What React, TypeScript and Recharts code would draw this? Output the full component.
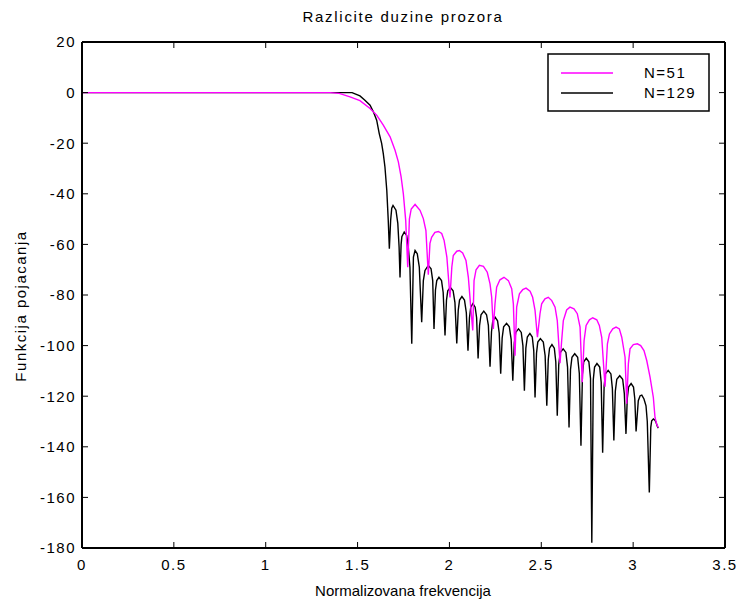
import React from 'react';
import { LineChart, Line, XAxis, YAxis } from 'recharts';

const TITLE = 'Razlicite duzine prozora';
const X_LABEL = 'Normalizovana frekvencija';
const Y_LABEL = 'Funkcija pojacanja';
const X_TICKS = [0, 0.5, 1, 1.5, 2, 2.5, 3, 3.5];
const Y_TICKS = [-180, -160, -140, -120, -100, -80, -60, -40, -20, 0, 20];
const SERIES_NAMES = ['N=51', 'N=129'];
const SERIES_COLORS = ['#ff00ff', '#000000'];

// N=51 response (x: rad, y: dB)
const N51: [number, number][] = [
  [0, 0], [1.35, 0], [1.40, -0.3], [1.459, -1.7], [1.513, -3.2], [1.568, -6.3], [1.604, -8.9], [1.640, -12.9],
  [1.677, -17.5], [1.704, -22.8], [1.722, -27.4], [1.737, -33.3], [1.749, -39.9], [1.762, -50.5], [1.773, -69],
  [1.782, -50], [1.792, -46], [1.813, -44.2], [1.840, -46.5], [1.858, -49.8], [1.872, -54.5], [1.885, -72],
  [1.894, -59.6], [1.903, -57.2], [1.921, -55.2], [1.940, -54.9], [1.958, -55.7], [1.971, -58.4], [1.986, -65], [2.003, -81],
  [2.013, -69], [2.021, -64.4], [2.040, -62.7], [2.054, -62.4], [2.072, -63.4], [2.090, -66.3], [2.103, -73], [2.116, -84.8], [2.127, -94],
  [2.134, -74.3], [2.145, -70], [2.163, -68.3], [2.185, -68.7], [2.206, -71], [2.221, -75.6], [2.230, -80.9], [2.239, -93.4],
  [2.248, -83.5], [2.257, -76.9], [2.275, -74], [2.297, -73], [2.321, -74.3], [2.339, -77.5], [2.348, -83.5], [2.357, -104],
  [2.366, -84.8], [2.381, -79.5], [2.399, -77.9], [2.417, -77.3], [2.439, -78.5], [2.453, -80.9], [2.466, -86.1], [2.479, -96.7],
  [2.493, -87.4], [2.502, -83.5], [2.520, -81.5], [2.538, -80.9], [2.557, -82.2], [2.575, -84.8], [2.587, -90.1], [2.602, -107],
  [2.611, -98], [2.620, -90.1], [2.638, -85.9], [2.656, -84.8], [2.678, -85.5], [2.696, -87.4], [2.711, -92.7], [2.723, -114.5],
  [2.733, -98], [2.744, -92], [2.762, -89.8], [2.780, -89], [2.802, -89.8], [2.816, -92], [2.829, -96.7], [2.847, -116.2],
  [2.860, -99.3], [2.871, -95.4], [2.889, -93.4], [2.907, -92.7], [2.925, -93.4], [2.938, -96.7], [2.956, -104.6], [2.965, -123],
  [2.974, -107.2], [2.983, -101.3], [3.001, -99.6], [3.023, -99.3], [3.041, -100], [3.059, -102], [3.074, -105.9], [3.092, -112.5],
  [3.110, -120.5], [3.119, -128.4], [3.128, -131], [3.137, -132.4],
];

// N=129 response (x: rad, y: dB)
const N129: [number, number][] = [
  [0, 0], [1.470, 0], [1.513, -1.3], [1.540, -3], [1.568, -5], [1.586, -7.6], [1.604, -10.9], [1.618, -16.2], [1.631, -20.1],
  [1.640, -24.1], [1.649, -29.4], [1.659, -38.6], [1.667, -50.5], [1.673, -61.7],
  [1.680, -50.5], [1.686, -45.7], [1.693, -44.6], [1.709, -46.5], [1.719, -51.7], [1.726, -61], [1.731, -73.1],
  [1.737, -60], [1.741, -57], [1.754, -55.1], [1.767, -56.4], [1.776, -61], [1.785, -69], [1.795, -99.3],
  [1.804, -65], [1.813, -62.4], [1.825, -63.7], [1.836, -69], [1.849, -90.8],
  [1.858, -74.3], [1.867, -70.3], [1.885, -68.3], [1.900, -69.6], [1.909, -74.3], [1.916, -93.4],
  [1.924, -78], [1.931, -74.3], [1.943, -73], [1.957, -74.3], [1.966, -79], [1.976, -96],
  [1.984, -82], [1.991, -78.3], [2.005, -77], [2.020, -78.3], [2.030, -83], [2.040, -99.2],
  [2.048, -86], [2.055, -82], [2.068, -80.6], [2.082, -82], [2.092, -87], [2.101, -102],
  [2.109, -89], [2.116, -84.8], [2.128, -83.4], [2.140, -84.8], [2.148, -89], [2.156, -105.1],
  [2.164, -92], [2.172, -87.8], [2.187, -86.4], [2.202, -87.8], [2.212, -92], [2.221, -108.3],
  [2.229, -94.5], [2.236, -90.2], [2.249, -88.8], [2.262, -90.2], [2.271, -95], [2.279, -111.1],
  [2.287, -97], [2.295, -92.6], [2.311, -91.2], [2.326, -92.6], [2.336, -97.5], [2.345, -113.9],
  [2.353, -99], [2.361, -94.8], [2.376, -93.4], [2.391, -94.8], [2.400, -100], [2.408, -117.8],
  [2.416, -101], [2.424, -96.6], [2.438, -95.2], [2.451, -96.6], [2.459, -102], [2.466, -120.5],
  [2.474, -103], [2.481, -98.6], [2.495, -97.2], [2.511, -98.6], [2.521, -104], [2.530, -123.8],
  [2.538, -105.5], [2.545, -101], [2.558, -99.6], [2.571, -101], [2.579, -106.5], [2.587, -127.7],
  [2.595, -107.5], [2.603, -102.7], [2.619, -101.3], [2.634, -102.7], [2.643, -108.5], [2.651, -132.4],
  [2.659, -109.5], [2.667, -104.6], [2.682, -103.2], [2.698, -104.6], [2.707, -111], [2.716, -139.6],
  [2.724, -111.5], [2.731, -106.4], [2.745, -105], [2.759, -106.4], [2.768, -113], [2.775, -177.9],
  [2.783, -113.5], [2.790, -108.5], [2.803, -107.1], [2.818, -108.5], [2.826, -114.5], [2.834, -142.3],
  [2.842, -116], [2.849, -111.2], [2.864, -109.8], [2.879, -111.2], [2.887, -117], [2.895, -137.5],
  [2.903, -118], [2.911, -113.3], [2.927, -111.9], [2.943, -113.3], [2.952, -119], [2.961, -134.9],
  [2.968, -121], [2.975, -116.4], [2.989, -115], [3.002, -116.4], [3.009, -121], [3.016, -133.9],
  [3.028, -121.8], [3.038, -119.8], [3.047, -119.6], [3.059, -121.1], [3.070, -123.8], [3.077, -130], [3.088, -158.1],
  [3.096, -132.3], [3.101, -129.7], [3.110, -129], [3.119, -129.5], [3.125, -130.4], [3.132, -132], [3.137, -132.6],
];

const toRows = (pts: [number, number][]) => pts.map(([x, y]) => ({ x, y }));
const d51 = toRows(N51);
const d129 = toRows(N129);

const FONT = '"Liberation Sans", Arial, Helvetica, sans-serif';
const tickStyle = { fontSize: 15, fill: '#000', fontFamily: FONT, letterSpacing: 1.5 };
const axisLine = { stroke: '#000', strokeWidth: 2 };
const tickLine = { stroke: '#000', strokeWidth: 1 };
const X_DOMAIN: [number, number] = [0, 3.5];
const Y_DOMAIN: [number, number] = [-180, 20];
const blank = () => '';

export default function App() {
  return (
    <div style={{ position: 'absolute', left: 0, top: 0, width: 743, height: 605, background: '#fff' }}>
      <LineChart width={743} height={605} margin={{ top: 42, right: 18, bottom: 0, left: 0 }}>
        {/* labelled axes (outer) */}
        <XAxis xAxisId="b" type="number" dataKey="x" domain={X_DOMAIN} ticks={X_TICKS} interval={0}
          orientation="bottom" height={57} tickSize={0} tickMargin={11}
          axisLine={axisLine} tickLine={false} tick={tickStyle} />
        <YAxis yAxisId="l" type="number" domain={Y_DOMAIN} ticks={Y_TICKS} interval={0}
          orientation="left" width={82} tickSize={0} tickMargin={6}
          axisLine={axisLine} tickLine={false} tick={tickStyle} />
        {/* inward tick marks on all four sides, box edges on top & right */}
        <XAxis xAxisId="bm" type="number" dataKey="x" domain={X_DOMAIN} ticks={X_TICKS} interval={0}
          orientation="bottom" mirror tickSize={6} axisLine={false} tickLine={tickLine}
          tickFormatter={blank} tick={{ fontSize: 1, fill: 'none' }} />
        <XAxis xAxisId="t" type="number" dataKey="x" domain={X_DOMAIN} ticks={X_TICKS} interval={0}
          orientation="top" mirror tickSize={6} axisLine={axisLine} tickLine={tickLine}
          tickFormatter={blank} tick={{ fontSize: 1, fill: 'none' }} />
        <YAxis yAxisId="lm" type="number" domain={Y_DOMAIN} ticks={Y_TICKS} interval={0}
          orientation="left" mirror tickSize={6} axisLine={false} tickLine={tickLine}
          tickFormatter={blank} tick={{ fontSize: 1, fill: 'none' }} />
        <YAxis yAxisId="r" type="number" domain={Y_DOMAIN} ticks={Y_TICKS} interval={0}
          orientation="right" mirror tickSize={6} axisLine={axisLine} tickLine={tickLine}
          tickFormatter={blank} tick={{ fontSize: 1, fill: 'none' }} />

        <Line xAxisId="bm" yAxisId="lm" data={d129} dataKey="y" stroke="none" dot={false}
          activeDot={false} isAnimationActive={false} legendType="none" />
        <Line xAxisId="t" yAxisId="r" data={d129} dataKey="y" stroke="none" dot={false}
          activeDot={false} isAnimationActive={false} legendType="none" />

        <Line xAxisId="b" yAxisId="l" data={d129} dataKey="y" name={SERIES_NAMES[1]} type="linear"
          stroke={SERIES_COLORS[1]} strokeWidth={1.4} dot={false} activeDot={false} isAnimationActive={false} />
        <Line xAxisId="b" yAxisId="l" data={d51} dataKey="y" name={SERIES_NAMES[0]} type="linear"
          stroke={SERIES_COLORS[0]} strokeWidth={1.4} dot={false} activeDot={false} isAnimationActive={false} />
      </LineChart>
      <svg
        width={743}
        height={605}
        style={{ position: 'absolute', left: 0, top: 0, pointerEvents: 'none' }}
        fontFamily={FONT}
      >
        <text x={403} y={22} textAnchor="middle" fontSize={15} letterSpacing={1.7} fill="#000">{TITLE}</text>
        <text x={403} y={596} textAnchor="middle" fontSize={15} fill="#000">{X_LABEL}</text>
        <text x={0} y={0} transform="translate(26,306) rotate(-90)" textAnchor="middle"
          fontSize={15} letterSpacing={1.5} fill="#000">
          {Y_LABEL}
        </text>
        <rect x={548} y={54} width={161} height={57} fill="#fff" stroke="#000" strokeWidth={1.5} />
        <line x1={561} x2={613} y1={73} y2={73} stroke={SERIES_COLORS[0]} strokeWidth={1.4} />
        <line x1={561} x2={613} y1={93} y2={93} stroke={SERIES_COLORS[1]} strokeWidth={1.4} />
        <text x={644} y={77.5} fontSize={15} letterSpacing={1.5} fill="#000">{SERIES_NAMES[0]}</text>
        <text x={644} y={97.5} fontSize={15} letterSpacing={1.5} fill="#000">{SERIES_NAMES[1]}</text>
      </svg>
    </div>
  );
}
